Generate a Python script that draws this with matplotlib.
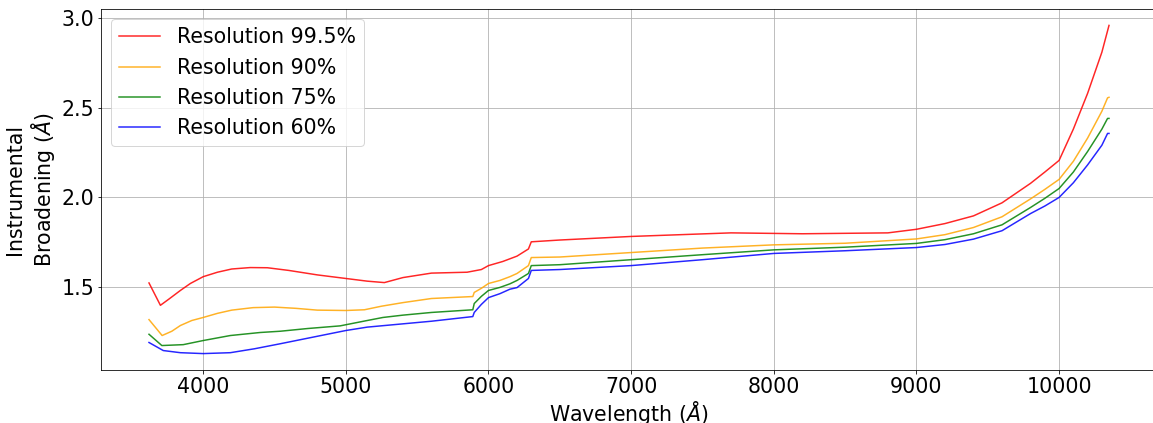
import matplotlib
matplotlib.use("Agg")
import matplotlib.pyplot as plt

labels = ["Resolution 99.5%", "Resolution 90%", "Resolution 75%", "Resolution 60%"]
colors = ["red", "orange", "green", "blue"]

red_x = [3620, 3700, 3760, 3840, 3910, 4000, 4100, 4200, 4330, 4450, 4600, 4800, 5000, 5150, 5270, 5400,
         5600, 5850, 5950, 6000, 6100, 6200, 6280, 6300, 6500, 7000, 7700, 8200, 8800, 9000, 9200, 9400,
         9600, 9800, 9900, 10000, 10100, 10200, 10300, 10350]
red_y = [1.52, 1.395, 1.43, 1.478, 1.517, 1.555, 1.58, 1.598, 1.606, 1.605, 1.59, 1.565, 1.545, 1.53, 1.522, 1.55,
         1.575, 1.58, 1.595, 1.617, 1.64, 1.67, 1.71, 1.75, 1.76, 1.78, 1.80, 1.795, 1.80, 1.82, 1.852, 1.895,
         1.968, 2.077, 2.14, 2.205, 2.38, 2.58, 2.81, 2.96]

orange_x = [3620, 3712, 3780, 3840, 3920, 4000, 4100, 4200, 4350, 4500, 4650, 4800, 5000, 5130, 5250, 5400,
            5600, 5890, 5900, 5950, 6000, 6080, 6150, 6200, 6280, 6300, 6500, 7000, 7500, 8000, 8500, 9000,
            9200, 9400, 9600, 9800, 9900, 10000, 10100, 10200, 10300, 10340, 10350]
orange_y = [1.315, 1.226, 1.25, 1.282, 1.31, 1.327, 1.35, 1.368, 1.382, 1.385, 1.378, 1.368, 1.366, 1.37, 1.39, 1.41,
            1.433, 1.444, 1.467, 1.49, 1.517, 1.534, 1.555, 1.573, 1.617, 1.662, 1.665, 1.69, 1.715, 1.733, 1.742, 1.766,
            1.79, 1.83, 1.89, 1.99, 2.043, 2.099, 2.20, 2.33, 2.48, 2.555, 2.558]

green_x = [3620, 3710, 3860, 4000, 4190, 4400, 4540, 4730, 4960, 5150, 5260, 5400, 5600, 5890, 5900, 5950,
           6000, 6080, 6150, 6200, 6280, 6300, 6500, 7000, 7500, 8000, 8500, 9000, 9200, 9400, 9600, 9800,
           9900, 10000, 10100, 10200, 10300, 10340, 10350]
green_y = [1.233, 1.17, 1.175, 1.198, 1.226, 1.243, 1.25, 1.265, 1.28, 1.31, 1.327, 1.34, 1.355, 1.37, 1.405, 1.445,
           1.478, 1.495, 1.515, 1.534, 1.573, 1.617, 1.622, 1.65, 1.678, 1.705, 1.72, 1.741, 1.762, 1.795, 1.845, 1.942,
           1.993, 2.048, 2.14, 2.255, 2.38, 2.44, 2.44]

blue_x = [3620, 3720, 3840, 4000, 4190, 4360, 4540, 5000, 5150, 5600, 5890, 5900, 5950, 6000, 6080, 6150,
          6200, 6280, 6300, 6500, 7000, 7500, 8000, 8500, 9000, 9200, 9400, 9600, 9800, 9900, 10000, 10100,
          10200, 10300, 10340, 10350]
blue_y = [1.187, 1.142, 1.13, 1.125, 1.13, 1.152, 1.18, 1.254, 1.273, 1.306, 1.332, 1.355, 1.40, 1.438, 1.46, 1.485,
          1.494, 1.545, 1.59, 1.595, 1.617, 1.65, 1.685, 1.70, 1.718, 1.735, 1.765, 1.812, 1.908, 1.95, 1.998, 2.08,
          2.18, 2.29, 2.356, 2.356]

series = [(red_x, red_y), (orange_x, orange_y), (green_x, green_y), (blue_x, blue_y)]

FS = 20.5
fig = plt.figure(figsize=(1153 / 72, 423 / 72), dpi=72)
ax = fig.add_axes([101 / 1153, 53 / 423, 1056 / 1153, 361 / 423])

for (x, y), c, lab in zip(series, colors, labels):
    ax.plot(x, y, color=c, lw=1.5, alpha=0.85, label=lab)

ax.grid(True, color="#b0b0b0", lw=0.8)
ax.tick_params(labelsize=FS)
ax.set_xlabel(r"Wavelength ($\AA$)", fontsize=FS, labelpad=2)
ax.set_ylabel("Instrumental\n" + r"Broadening ($\AA$)", fontsize=FS)
ax.set_xticks([4000, 5000, 6000, 7000, 8000, 9000, 10000])
ax.set_yticks([1.5, 2.0, 2.5, 3.0])
ax.legend(loc="upper left", fontsize=FS)

fig.savefig("out.png", dpi=72)
